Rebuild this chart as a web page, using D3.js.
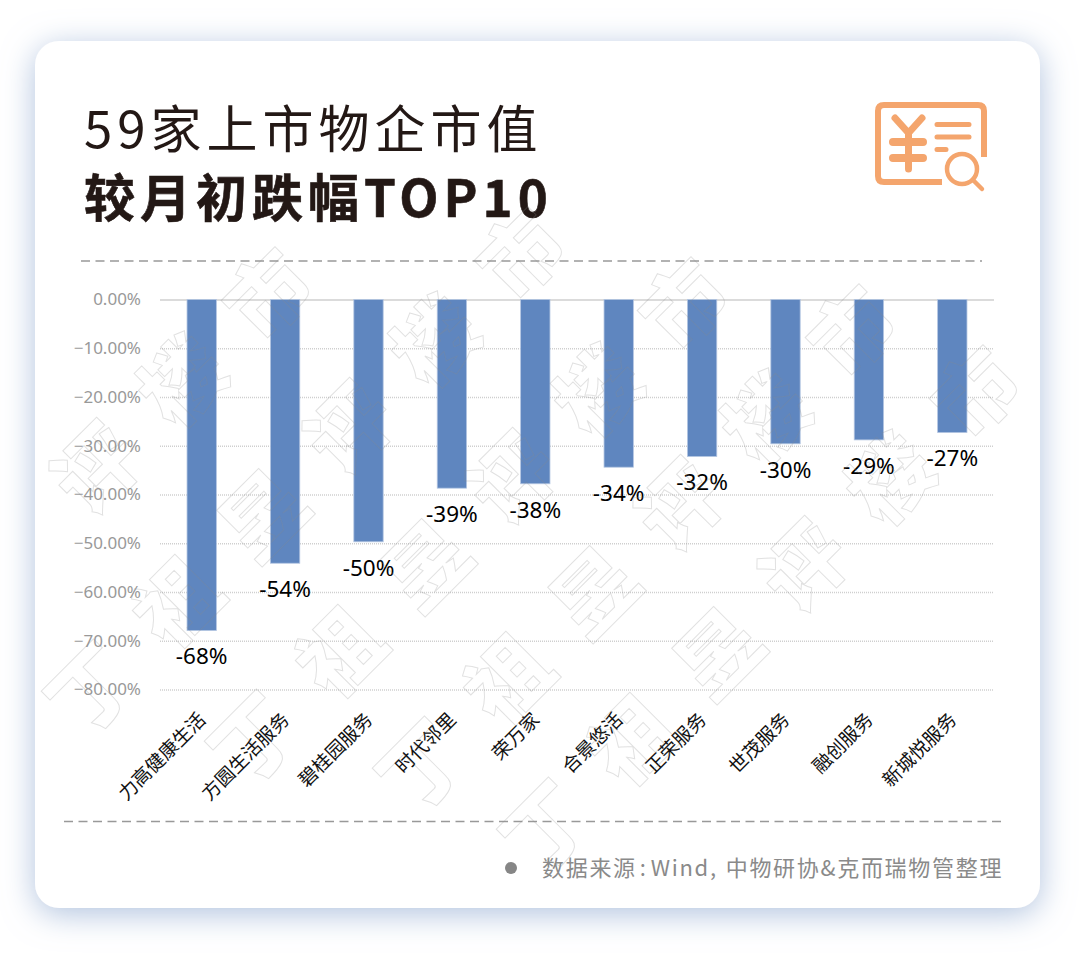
<!DOCTYPE html>
<html>
<head>
<meta charset="utf-8">
<script src="https://cdn.jsdelivr.net/npm/d3@7"></script>
<style>
html, body { margin: 0; padding: 0; background: #fff; }
svg { display: block; }
text { font-family: "Noto Sans", "Noto Sans CJK SC", sans-serif; }
.cjk { font-family: "Noto Sans CJK SC", sans-serif; }
</style>
</head>
<body>
<div id="chart"></div>
<script>
const categories = ["力高健康生活", "方圆生活服务", "碧桂园服务", "时代邻里", "荣万家", "合景悠活", "正荣服务", "世茂服务", "融创服务", "新城悦服务"];
const drops = [-67.9, -54.1, -49.7, -38.7, -37.8, -34.4, -32.2, -29.6, -28.8, -27.3];
const yTicks = [0, -10, -20, -30, -40, -50, -60, -70, -80];
const titleLines = ["59家上市物企市值", "较月初跌幅TOP10"];
const sourceParts = ["数据来源", ":", "Wind", ",", "中物研协", "&", "克而瑞物管整理"];
const sourceGaps = [0, 3, 3, 0, 8, 0, 0];
const watermarkChars = ["市", "楼", "评", "昱", "祖", "丁"];

const WIDTH = 1080;
const HEIGHT = 957;
const LEFT = 160;
const RIGHT = 994;
const TOP = 299.5;
const BOTTOM = 689.5;

const svg = d3.select("#chart").append("svg")
    .attr("width", WIDTH)
    .attr("height", HEIGHT);

const x = d3.scaleBand()
    .domain(categories)
    .range([LEFT, RIGHT])
    .paddingInner(0.648)
    .paddingOuter(0.324);

const y = d3.scaleLinear()
    .domain([0, -80])
    .range([TOP, BOTTOM]);

function drawCard() {
    const defs = svg.append("defs");
    const shadow = defs.append("filter")
        .attr("id", "cardShadow")
        .attr("x", "-10%").attr("y", "-10%")
        .attr("width", "120%").attr("height", "120%");
    shadow.append("feDropShadow")
        .attr("dx", 0)
        .attr("dy", 6)
        .attr("stdDeviation", 16)
        .attr("flood-color", "#9cb3d6")
        .attr("flood-opacity", 0.8);

    svg.append("rect")
        .attr("x", 35)
        .attr("y", 41)
        .attr("width", 1005)
        .attr("height", 867)
        .attr("rx", 24)
        .attr("fill", "#fff")
        .attr("filter", "url(#cardShadow)");
}

function drawTitle() {
    svg.append("text")
        .attr("class", "cjk")
        .attr("x", 84)
        .attr("y", 148)
        .attr("font-size", 51)
        .attr("font-weight", 400)
        .attr("letter-spacing", 5)
        .attr("fill", "#231815")
        .text(titleLines[0]);

    svg.append("text")
        .attr("class", "cjk")
        .attr("x", 84)
        .attr("y", 217)
        .attr("font-size", 51)
        .attr("font-weight", 700)
        .attr("letter-spacing", 5)
        .attr("fill", "#231815")
        .attr("stroke", "#231815")
        .attr("stroke-width", 0.6)
        .text(titleLines[1]);
}

function drawIcon() {
    const orange = "#f4a56d";
    const icon = svg.append("g")
        .attr("fill", "none")
        .attr("stroke", orange)
        .attr("stroke-linecap", "round")
        .attr("stroke-linejoin", "round");

    icon.append("path")
        .attr("d", "M942,182 H884 Q878,182 878,176 V111 Q878,105 884,105 H978 Q984,105 984,111 V157")
        .attr("stroke-width", 6)
        .attr("stroke-linecap", "butt");

    icon.append("path")
        .attr("d", "M895,118 L908.5,133 L922,118 M908.5,133 V169")
        .attr("stroke-width", 7);
    icon.append("path")
        .attr("d", "M893,142 H923 M893,158 H923")
        .attr("stroke-width", 8);
    icon.append("path")
        .attr("d", "M937,124.5 H969 M937,137 H969 M937,149.5 H946")
        .attr("stroke-width", 5);

    icon.append("circle")
        .attr("cx", 962)
        .attr("cy", 169)
        .attr("r", 15)
        .attr("stroke-width", 4.5);
    icon.append("path")
        .attr("d", "M974,181 L982,189")
        .attr("stroke-width", 4.5);
}

function drawDividers() {
    const lines = [[81, 982, 261], [64, 1001, 821.5]];
    svg.selectAll(".divider")
        .data(lines)
        .join("line")
        .attr("class", "divider")
        .attr("x1", d => d[0])
        .attr("x2", d => d[1])
        .attr("y1", d => d[2])
        .attr("y2", d => d[2])
        .attr("stroke", "#999")
        .attr("stroke-width", 1.4)
        .attr("stroke-dasharray", "9 5.5");
}

function drawYAxis() {
    const axis = svg.append("g")
        .attr("class", "y-axis")
        .attr("transform", `translate(${LEFT},0)`)
        .call(d3.axisLeft(y)
            .tickValues(yTicks)
            .tickSize(-(RIGHT - LEFT))
            .tickPadding(19)
            .tickFormat(d => d3.format(".2f")(d) + "%"));

    axis.select(".domain").remove();
    axis.selectAll("line")
        .attr("stroke", "#cfcfcf")
        .attr("stroke-width", 1.5)
        .attr("stroke-dasharray", d => d === 0 ? null : "1 1");
    axis.selectAll("text")
        .attr("font-family", '"Noto Sans", sans-serif')
        .attr("font-size", 17)
        .attr("fill", "#999");
}

function drawXAxis() {
    const axis = svg.append("g")
        .attr("class", "x-axis")
        .attr("transform", `translate(0,${BOTTOM})`)
        .call(d3.axisBottom(x).tickSize(0));

    axis.select(".domain").remove();
    axis.selectAll("text")
        .attr("class", "cjk")
        .attr("font-family", '"Noto Sans CJK SC", sans-serif')
        .attr("font-size", 19)
        .attr("fill", "#111")
        .attr("text-anchor", "end")
        .attr("transform", "translate(1,27) rotate(-45)")
        .attr("x", 0)
        .attr("y", 0)
        .attr("dy", "0.32em");
}

function drawBars() {
    svg.selectAll(".bar")
        .data(drops)
        .join("rect")
        .attr("class", "bar")
        .attr("x", (d, i) => x(categories[i]))
        .attr("y", y(0))
        .attr("width", x.bandwidth())
        .attr("height", d => y(d) - y(0))
        .attr("fill", "#5f86bf")
        .attr("stroke", "#b4c6e2")
        .attr("stroke-width", 0.8);

    svg.selectAll(".bar-label")
        .data(drops)
        .join("text")
        .attr("class", "bar-label")
        .attr("x", (d, i) => x(categories[i]) + x.bandwidth() / 2)
        .attr("y", d => y(d) + 26)
        .attr("dy", "0.35em")
        .attr("text-anchor", "middle")
        .attr("font-size", 22.5)
        .attr("fill", "#000")
        .text(d => Math.round(d) + "%");
}

function drawWatermark() {
    // one entry per diagonal row: where its 市 sits
    const rowX = [269, 522, 685, 853, 977];
    const rowY = [295, 255, 305, 332, 393];
    const wm = svg.append("g").attr("class", "watermark");
    rowX.forEach((rx, r) => {
        watermarkChars.forEach((c, i) => {
            const cx = rx - i * 86;
            const cy = rowY[r] + i * 87;
            if (cx < 50) return;
            wm.append("text")
                .attr("class", "cjk")
                .attr("transform", `translate(${cx},${cy}) rotate(-45)`)
                .attr("text-anchor", "middle")
                .attr("dy", "0.36em")
                .attr("font-size", 82)
                .attr("font-weight", 900)
                .attr("fill", "none")
                .attr("stroke", "#8a8a8a")
                .attr("stroke-opacity", 0.26)
                .attr("stroke-width", 1)
                .text(c);
        });
    });
}

function drawSource() {
    svg.append("circle")
        .attr("cx", 511)
        .attr("cy", 868)
        .attr("r", 6)
        .attr("fill", "#868686");

    svg.append("text")
        .attr("class", "cjk")
        .attr("x", 542)
        .attr("y", 876)
        .attr("font-size", 22)
        .attr("letter-spacing", 1.7)
        .attr("fill", "#8a8a8a")
        .selectAll("tspan")
        .data(sourceParts)
        .join("tspan")
        .attr("dx", (d, i) => sourceGaps[i])
        .text(d => d);
}

drawCard();
drawTitle();
drawIcon();
drawDividers();
drawYAxis();
drawBars();
drawXAxis();
drawWatermark();
drawSource();
</script>
</body>
</html>
